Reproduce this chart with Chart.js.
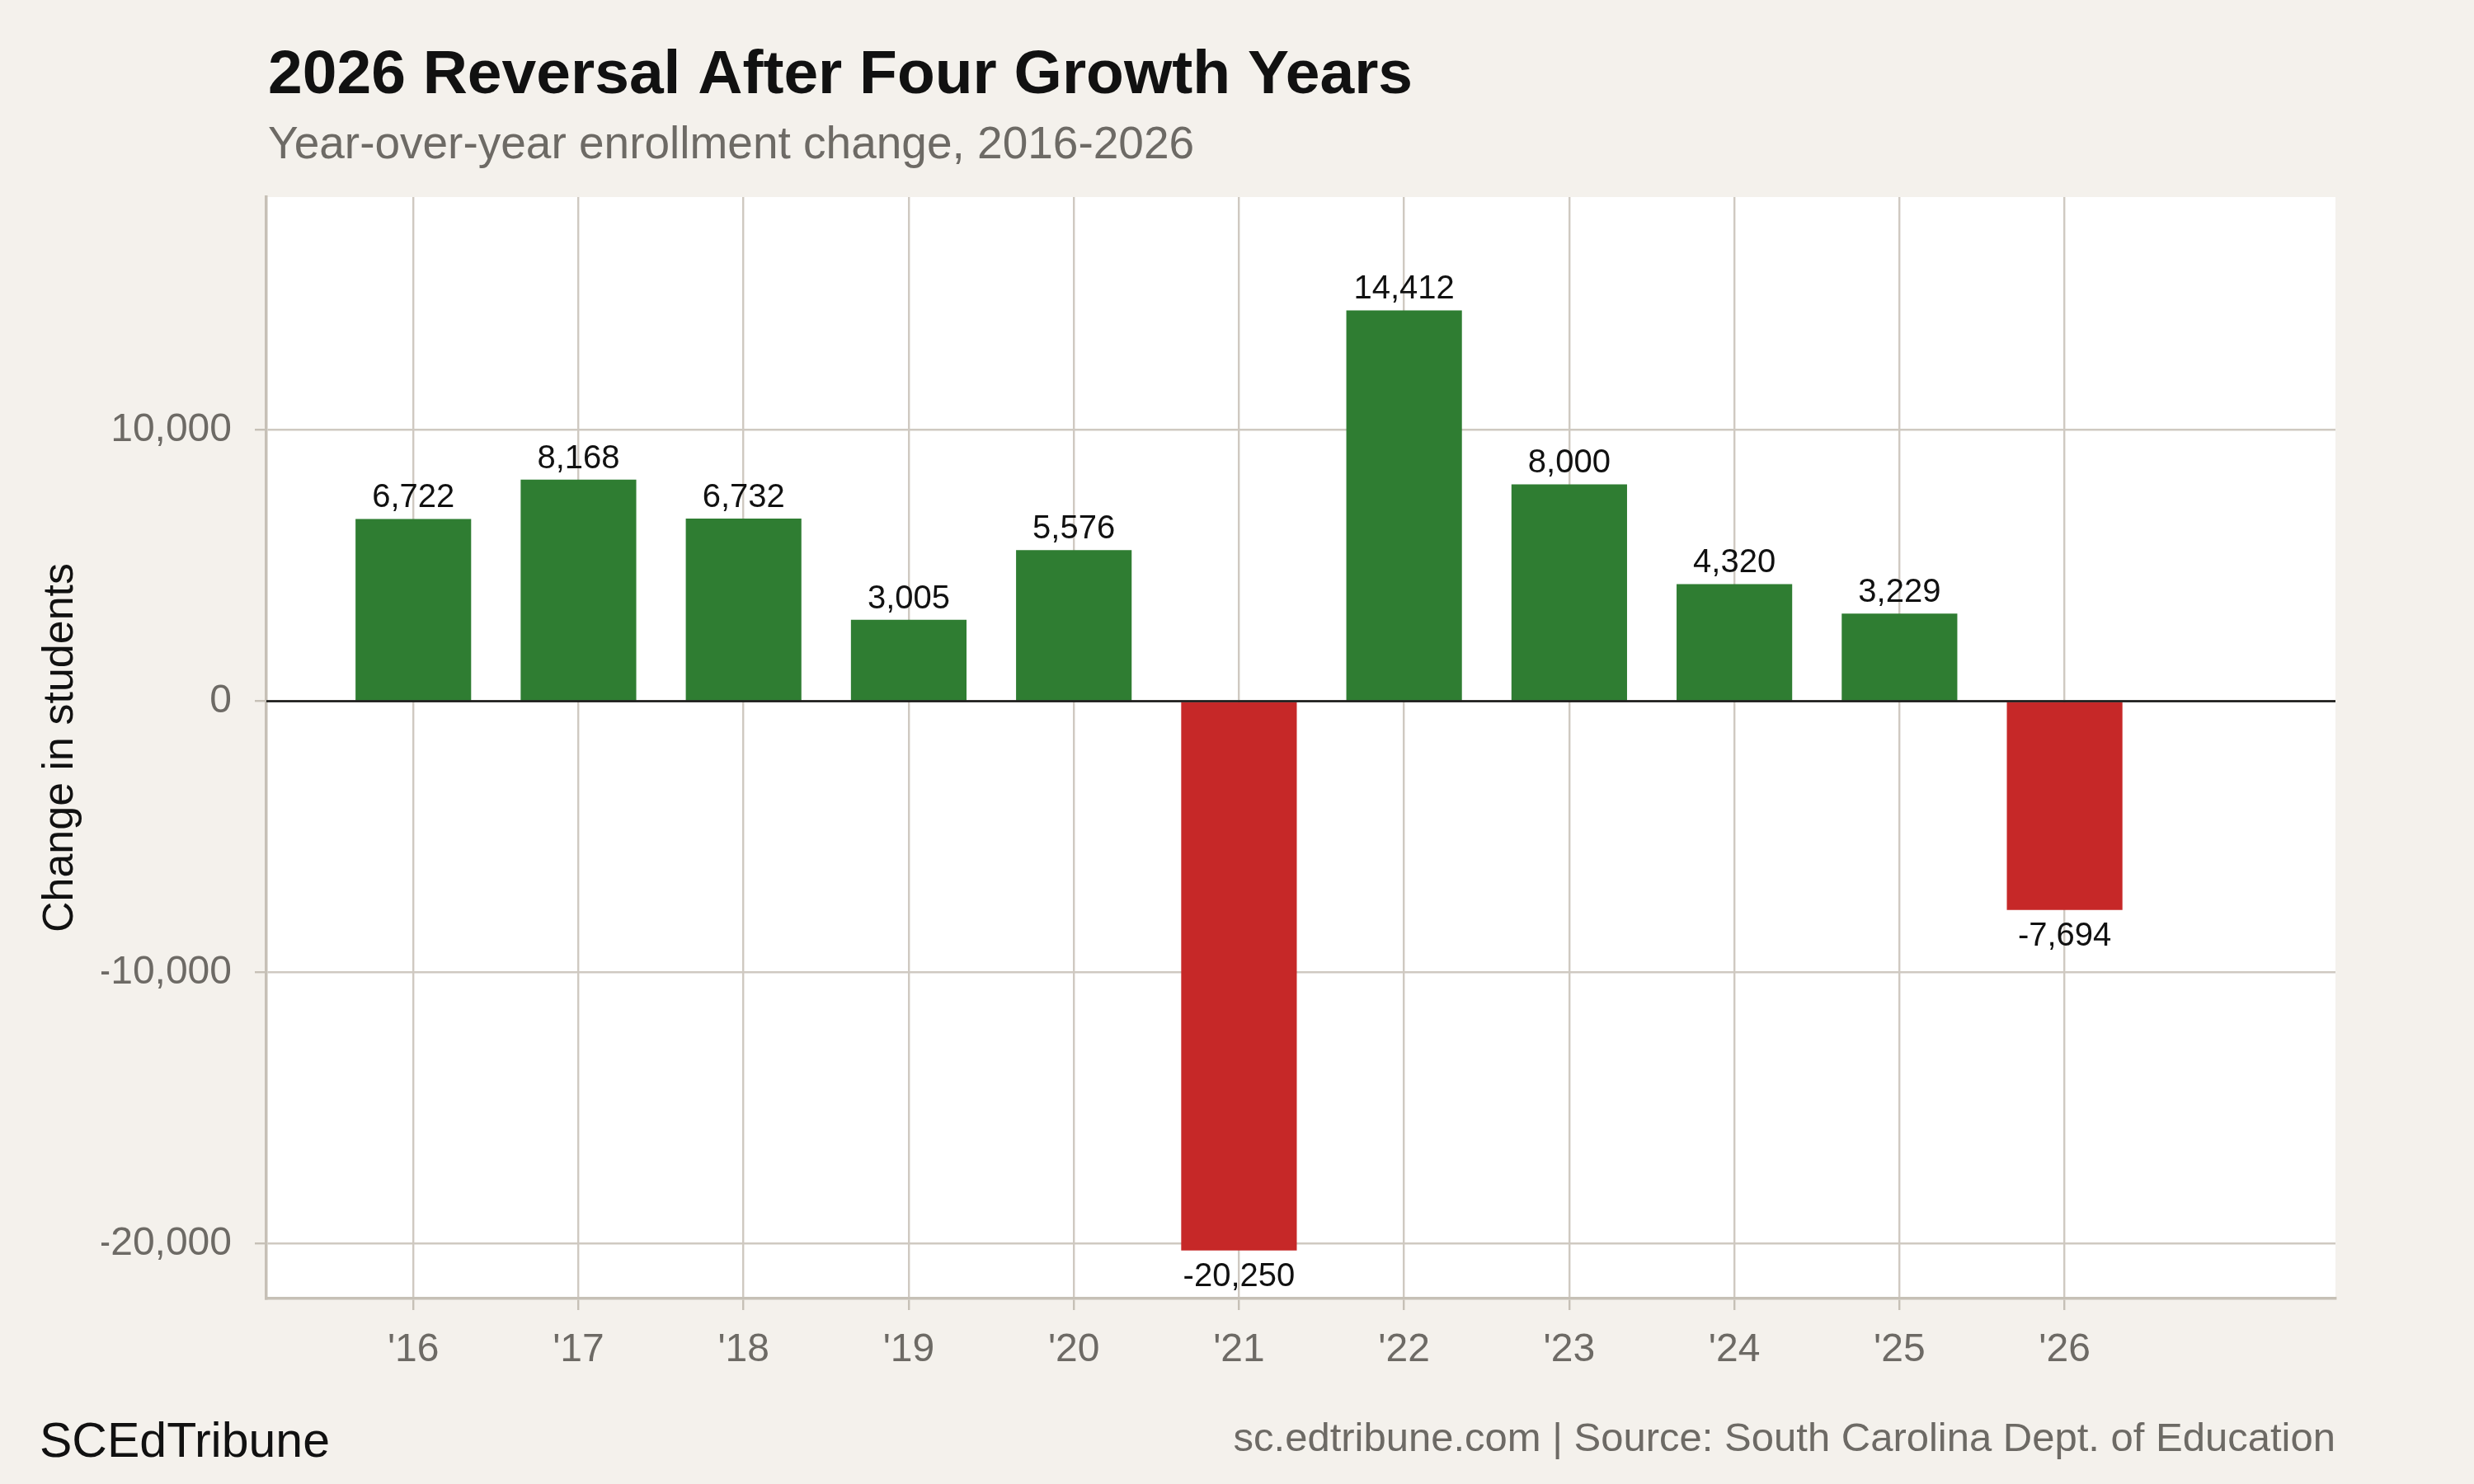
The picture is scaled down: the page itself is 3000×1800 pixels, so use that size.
<!DOCTYPE html>
<html>
<head>
<meta charset="utf-8">
<script src="https://cdn.jsdelivr.net/npm/chart.js@4.4.1/dist/chart.umd.min.js"></script>
<style>
  html, body { margin: 0; padding: 0; background: #f4f1ec; }
  #wrap { width: 3000px; height: 1800px; }
</style>
</head>
<body>
<div id="wrap"><canvas id="chart" width="3000" height="1800"></canvas></div>
<script>
// ----- data -----
const years = [2016, 2017, 2018, 2019, 2020, 2021, 2022, 2023, 2024, 2025, 2026];
const changes = [6722, 8168, 6732, 3005, 5576, -20250, 14412, 8000, 4320, 3229, -7694];
const yTicks = [-20000, -10000, 0, 10000];

const titleText = '2026 Reversal After Four Growth Years';
const subtitleText = 'Year-over-year enrollment change, 2016-2026';
const yTitle = 'Change in students';
const brandText = 'SCEdTribune';
const sourceText = 'sc.edtribune.com | Source: South Carolina Dept. of Education';

const GREEN = '#2f7d32';
const RED = '#c62828';
const FONT = '"Liberation Sans", Arial, Helvetica, sans-serif';
const GRID = '#cfc9c1';
const AXIS = '#c6c0b6';
const GREY_TEXT = '#6d6a65';

const fmt = v => v.toLocaleString('en-US');

// background + white panel
const panelPlugin = {
  id: 'panel',
  beforeDraw(chart) {
    const { ctx, chartArea: a } = chart;
    ctx.save();
    ctx.fillStyle = '#f4f1ec';
    ctx.fillRect(0, 0, chart.width, chart.height);
    ctx.fillStyle = '#ffffff';
    ctx.fillRect(a.left, a.top, a.right - a.left, a.bottom - a.top);
    ctx.restore();
  }
};

// zero line and value labels on top of the bars
const labelPlugin = {
  id: 'valueLabels',
  afterDatasetsDraw(chart) {
    const { ctx, chartArea: a, scales } = chart;
    const y0 = scales.y.getPixelForValue(0);
    ctx.save();
    ctx.strokeStyle = '#111111';
    ctx.lineWidth = 2.5;
    ctx.beginPath();
    ctx.moveTo(a.left, y0);
    ctx.lineTo(a.right, y0);
    ctx.stroke();

    ctx.font = '40px ' + FONT;
    ctx.fillStyle = '#111111';
    ctx.textAlign = 'center';
    chart.getDatasetMeta(0).data.forEach((bar, i) => {
      const v = changes[i];
      if (v >= 0) {
        ctx.textBaseline = 'alphabetic';
        ctx.fillText(fmt(v), bar.x, bar.y - 14);
      } else {
        ctx.textBaseline = 'top';
        ctx.fillText(fmt(v), bar.x, bar.y + 12);
      }
    });
    ctx.restore();
  }
};

// titles, axis title, footer
const textPlugin = {
  id: 'texts',
  afterDraw(chart) {
    const { ctx, chartArea: a } = chart;
    ctx.save();
    ctx.textBaseline = 'alphabetic';
    ctx.textAlign = 'left';
    ctx.fillStyle = '#111111';
    ctx.font = 'bold 75px ' + FONT;
    ctx.fillText(titleText, a.left + 2, 113);

    ctx.fillStyle = GREY_TEXT;
    ctx.font = '55px ' + FONT;
    ctx.fillText(subtitleText, a.left + 2, 192);

    ctx.fillStyle = '#111111';
    ctx.font = '59px ' + FONT;
    ctx.fillText(brandText, 48, 1767);

    ctx.fillStyle = GREY_TEXT;
    ctx.font = '49px ' + FONT;
    ctx.textAlign = 'right';
    ctx.fillText(sourceText, a.right, 1760);

    ctx.translate(88, (a.top + a.bottom) / 2);
    ctx.rotate(-Math.PI / 2);
    ctx.textAlign = 'center';
    ctx.fillStyle = '#111111';
    ctx.font = '52px ' + FONT;
    ctx.fillText(yTitle, 0, 0);
    ctx.restore();
  }
};

new Chart(document.getElementById('chart'), {
  type: 'bar',
  data: {
    datasets: [{
      data: years.map((yr, i) => ({ x: yr, y: changes[i] })),
      backgroundColor: changes.map(v => v >= 0 ? GREEN : RED),
      borderWidth: 0,
      barPercentage: 0.7,
      categoryPercentage: 1.0
    }]
  },
  options: {
    responsive: false,
    devicePixelRatio: 1,
    animation: false,
    layout: { padding: { left: 123, top: 239, right: 168, bottom: 105 } },
    plugins: {
      legend: { display: false },
      tooltip: { enabled: false }
    },
    scales: {
      x: {
        type: 'linear',
        offset: false,
        min: 2015.11,
        max: 2027.64,
        afterBuildTicks: s => { s.ticks = years.map(v => ({ value: v })); },
        afterFit: s => { s.height = 120; },
        ticks: {
          color: GREY_TEXT,
          font: { family: FONT, size: 48 },
          padding: 20,
          maxRotation: 0,
          autoSkip: false,
          callback: v => "'" + String(v).slice(2)
        },
        grid: { offset: false, color: GRID, lineWidth: 2.4, tickLength: 14, tickColor: AXIS, tickWidth: 2.4 },
        border: { display: true, color: AXIS, width: 3.5 }
      },
      y: {
        min: -22020,
        max: 18590,
        afterBuildTicks: s => { s.ticks = yTicks.map(v => ({ value: v })); },
        afterFit: s => { s.width = 200; },
        ticks: {
          color: GREY_TEXT,
          font: { family: FONT, size: 48 },
          padding: 28,
          callback: v => fmt(v)
        },
        grid: { color: GRID, lineWidth: 2.4, tickLength: 14, tickColor: AXIS, tickWidth: 2.4 },
        border: { display: true, color: AXIS, width: 3.5 }
      }
    }
  },
  plugins: [panelPlugin, labelPlugin, textPlugin]
});
</script>
</body>
</html>
